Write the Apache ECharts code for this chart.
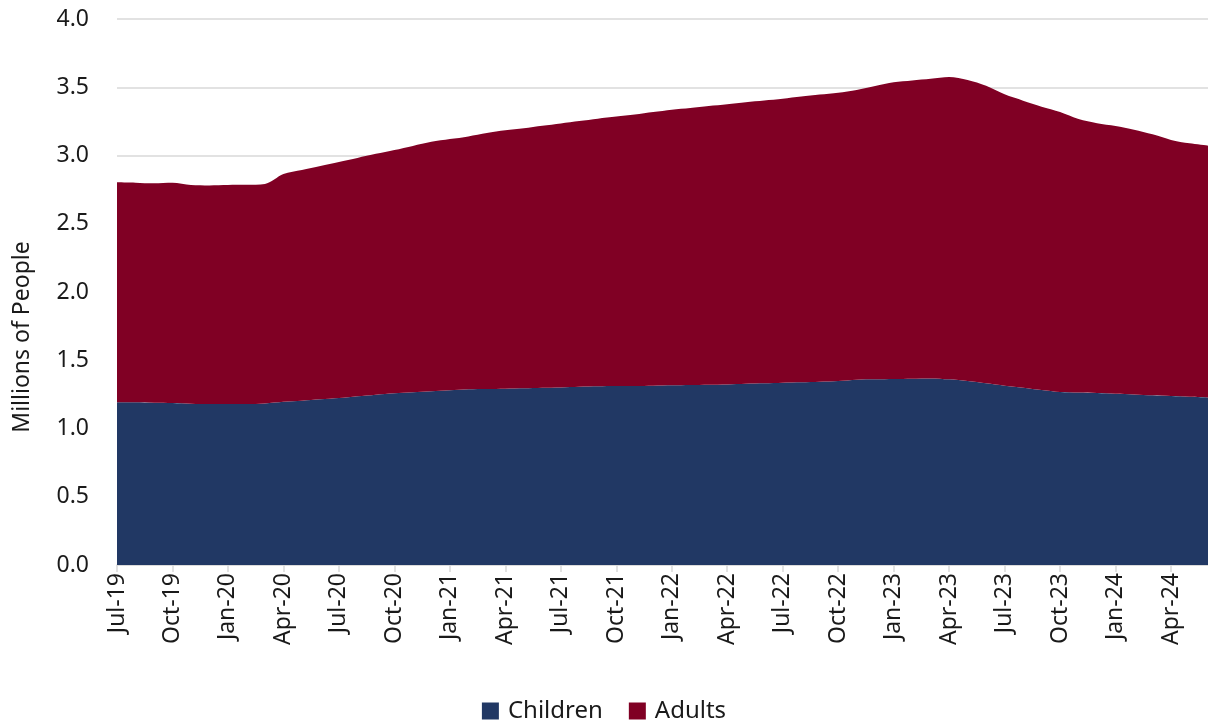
<!DOCTYPE html>
<html><head><meta charset="utf-8">
<script src="https://cdn.jsdelivr.net/npm/echarts@6/dist/echarts.min.js"></script>
<style>html,body{margin:0;padding:0;background:#fff}#c{width:1208px;height:725px}</style>
</head><body><div id="c"></div>
<script>
const months = ['Jul','Aug','Sep','Oct','Nov','Dec','Jan','Feb','Mar','Apr','May','Jun'];
const categories = [];
(function(){ let m = 0, y = 19; for (let i = 0; i < 60; i++) { categories.push(months[m] + '-' + y); m++; if (m === 6) y++; if (m === 12) m = 0; } })();
const children = [1.192,1.192,1.189,1.187,1.182,1.179,1.179,1.179,1.184,1.196,
  1.204,1.214,1.223,1.236,1.248,1.258,1.265,1.272,1.280,1.287,
  1.289,1.292,1.294,1.299,1.301,1.306,1.309,1.311,1.311,1.314,
  1.316,1.318,1.321,1.323,1.328,1.331,1.336,1.338,1.343,1.348,
  1.358,1.360,1.362,1.365,1.367,1.360,1.348,1.331,1.314,1.299,
  1.282,1.267,1.263,1.260,1.255,1.250,1.243,1.238,1.233,1.228];
const adults = [1.612,1.609,1.607,1.614,1.602,1.602,1.605,1.606,1.607,1.668,
  1.690,1.709,1.730,1.746,1.764,1.782,1.805,1.828,1.840,1.853,
  1.876,1.893,1.906,1.919,1.934,1.946,1.961,1.974,1.989,2.004,
  2.020,2.030,2.041,2.052,2.062,2.072,2.080,2.094,2.103,2.112,
  2.122,2.149,2.174,2.185,2.196,2.215,2.205,2.180,2.134,2.103,
  2.076,2.052,2.004,1.976,1.961,1.939,1.912,1.876,1.856,1.844];
const yTicks = {min: 0, max: 4, interval: 0.5};
const yTitle = 'Millions of People';
const FONT = 'Noto Sans';
const chart = echarts.init(document.getElementById('c'));
chart.setOption({
  animation: false,
  textStyle: {fontFamily: FONT},
  grid: {left: 117, right: 0, top: 19, bottom: 160},
  legend: {
    bottom: -3, left: 'center', itemWidth: 17, itemHeight: 17, itemGap: 26,
    icon: 'rect', textStyle: {fontSize: 24, color: '#1a1a1a', fontFamily: FONT, padding: [0, 0, 0, 4]},
    data: ['Children', 'Adults']
  },
  graphic: [{
    type: 'text', x: 22, y: 337, rotation: Math.PI / 2,
    style: {text: yTitle, fontSize: 23, fill: '#1a1a1a', fontFamily: FONT, textAlign: 'center', textVerticalAlign: 'middle'}
  }],
  xAxis: {
    type: 'category', data: categories, boundaryGap: false,
    axisLine: {lineStyle: {color: '#d9d9d9', width: 1.5}},
    axisTick: {show: true, interval: 2, length: 7, lineStyle: {color: '#d9d9d9', width: 1.5}},
    axisLabel: {interval: 2, rotate: 90, fontSize: 23, color: '#1a1a1a', margin: 8, fontFamily: FONT}
  },
  yAxis: {
    type: 'value', min: yTicks.min, max: yTicks.max, interval: yTicks.interval,
    axisLine: {show: false}, axisTick: {show: false},
    axisLabel: {fontSize: 23, color: '#1a1a1a', margin: 28, formatter: v => v.toFixed(1), fontFamily: FONT},
    splitLine: {lineStyle: {color: '#d9d9d9', width: 1.5}}
  },
  series: [
    {name: 'Children', type: 'line', stack: 'total', data: children, smooth: 0.3, symbol: 'none',
     lineStyle: {width: 0}, itemStyle: {color: '#213864'}, areaStyle: {color: '#213864', opacity: 1}},
    {name: 'Adults', type: 'line', stack: 'total', data: adults, smooth: 0.3, symbol: 'none',
     lineStyle: {width: 0}, itemStyle: {color: '#800024'}, areaStyle: {color: '#800024', opacity: 1}}
  ]
});
</script></body></html>
